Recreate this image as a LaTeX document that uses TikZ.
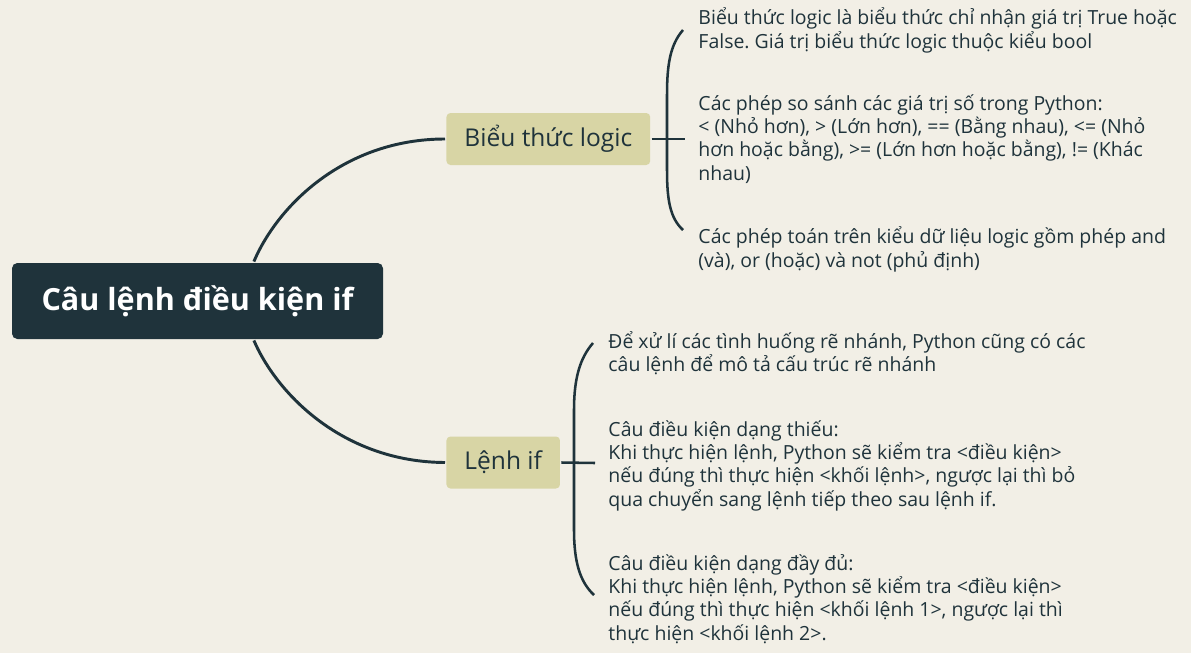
\documentclass[tikz,border=0pt]{standalone}
\usepackage{fontspec}
\setmainfont{Open Sans}
\frenchspacing
\definecolor{paper}{HTML}{F2EFE6}
\definecolor{ink}{HTML}{1F333B}
\definecolor{olive}{HTML}{D8D5A5}

\begin{document}
\begin{tikzpicture}[x=0.75pt,y=-0.75pt,color=ink,line width=2.2pt,
    root node/.style={rectangle,rounded corners=4pt,fill=ink,text=white,font=\fontsize{22.9}{28}\selectfont\bfseries,minimum width=278.25pt,minimum height=57pt},
    topic node/.style={rectangle,rounded corners=3pt,fill=olive,text=ink,anchor=west,inner xsep=13.5pt,font=\fontsize{18.4}{22}\selectfont,minimum height=39pt},
    note/.style={anchor=base west,align=left,inner sep=0pt,text=ink,font=\fontsize{14.6}{17.5}\selectfont},
    brace/.style={line width=1.9pt}]

\useasboundingbox (0,0) rectangle (1191,653);
\fill[paper] (0,0) rectangle (1191,653);

\node[root node]  (root)   at (197.5,301) {Câu lệnh điều kiện if};
\node[topic node] (logic)  at (445,139)   {Biểu thức logic};
\node[topic node] (lenhif) at (445,462.5) {Lệnh if};

\draw (root.35) .. controls (278,205) and (345,139) .. (logic.west);
\draw (root.-35) .. controls (278,396) and (345,462) .. (lenhif.west);

% brace for the logic topic
\coordinate (logicbrace) at (685,139);
\draw[brace] (logic.east) -- (logicbrace);
\draw[brace] (683,30) .. controls (670,45) and (667,65) .. (667,95) -- (667,170)
    .. controls (667,200) and (670,218) .. (683,230);

% notes sit on the baseline of their last line
\node[note] (n1) at (697,48) {Biểu thức logic là biểu thức chỉ nhận giá trị True hoặc\\False. Giá trị biểu thức logic thuộc kiểu bool};
\node[note] (n2) at (697,180) {Các phép so sánh các giá trị số trong Python:\\< (Nhỏ hơn), > (Lớn hơn), == (Bằng nhau), <= (Nhỏ\\hơn hoặc bằng), >= (Lớn hơn hoặc bằng), != (Khác\\nhau)};
\node[note] (n3) at (697,267) {Các phép toán trên kiểu dữ liệu logic gồm phép and\\(và), or (hoặc) và not (phủ định)};

% brace for the if topic
\coordinate (ifbrace) at (595,463);
\draw[brace] (lenhif.east) -- (ifbrace);
\draw[brace] (593,343) .. controls (580,358) and (574,378) .. (574,410) -- (574,530)
    .. controls (574,562) and (580,582) .. (594,595);

\node[note] (n4) at (607,371.5) {Để xử lí các tình huống rẽ nhánh, Python cũng có các\\câu lệnh để mô tả cấu trúc rẽ nhánh};
\node[note] (n5) at (607,506) {Câu điều kiện dạng thiếu:\\Khi thực hiện lệnh, Python sẽ kiểm tra <điều kiện>\\nếu đúng thì thực hiện <khối lệnh>, ngược lại thì bỏ\\qua chuyển sang lệnh tiếp theo sau lệnh if.};
\node[note] (n6) at (607,640) {Câu điều kiện dạng đầy đủ:\\Khi thực hiện lệnh, Python sẽ kiểm tra <điều kiện>\\nếu đúng thì thực hiện <khối lệnh 1>, ngược lại thì\\thực hiện <khối lệnh 2>.};
\end{tikzpicture}
\end{document}
